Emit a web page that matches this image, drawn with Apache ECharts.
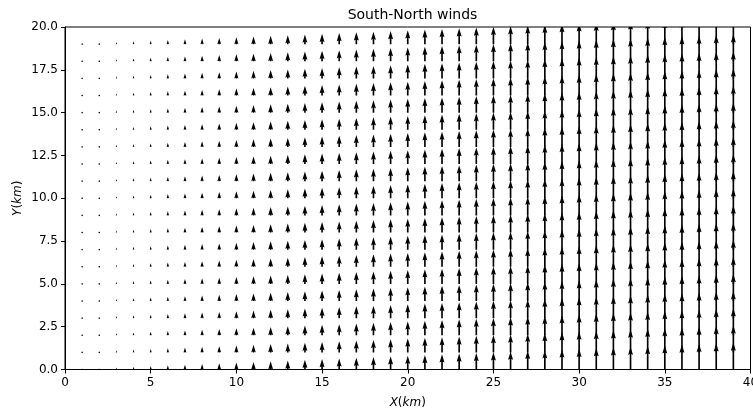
<!DOCTYPE html>
<html><head><meta charset="utf-8">
<script src="https://cdn.jsdelivr.net/npm/echarts@6/dist/echarts.min.js"></script>
<style>html,body{margin:0;padding:0;background:#fff}#c{width:753px;height:411px}</style>
</head><body><div id="c"></div>
<script>
// grid of arrow tails (km)
const xPositions = [0,1,2,3,4,5,6,7,8,9,10,11,12,13,14,15,16,17,18,19,20,21,22,23,24,25,26,27,28,29,30,31,32,33,34,35,36,37,38,39];
const yPositions = [0,1,2,3,4,5,6,7,8,9,10,11,12,13,14,15,16,17,18,19];
// south->north wind speed per x column (constant along y)
const northSpeed = [0,1,2,3,4,5,6,7,8,9,10,11,12,13,14,15,16,17,18,19,20,21,22,23,24,25,26,27,28,29,30,31,32,33,34,35,36,37,38,39];
const eastSpeed  = [0,0,0,0,0,0,0,0,0,0,0,0,0,0,0,0,0,0,0,0,0,0,0,0,0,0,0,0,0,0,0,0,0,0,0,0,0,0,0,0];
const xTickLabels = ['0','5','10','15','20','25','30','35','40'];
const yTickLabels = ['0.0','2.5','5.0','7.5','10.0','12.5','15.0','17.5','20.0'];

const ARROW_SCALE = 0.0404; // km of arrow per unit speed
const SHAFT_W = 1.65;       // px

const data = [];
xPositions.forEach((x, i) => {
  yPositions.forEach(y => data.push([x, y, eastSpeed[i], northSpeed[i]]));
});

function renderItem(params, api) {
  const x = api.value(0), y = api.value(1), u = api.value(2), v = api.value(3);
  const p0 = api.coord([x, y]);
  const p1 = api.coord([x + u * ARROW_SCALE, y + v * ARROW_SCALE]);
  const dx = p1[0] - p0[0], dy = p1[1] - p0[1];
  const L = Math.sqrt(dx * dx + dy * dy);
  const w = SHAFT_W;
  const Lw = L / w;
  let pts;
  if (Lw < 1) {
    pts = [];
    for (let k = 0; k < 6; k++) {
      const th = k * Math.PI / 3;
      pts.push([Math.cos(th) * 0.5, Math.sin(th) * 0.5]);
    }
  } else if (Lw < 5) {
    const s = Lw / 5;
    pts = [[0,0.5],[0.5,0.5],[0,1.5],[5,0],[0,-1.5],[0.5,-0.5],[0,-0.5]].map(p => [p[0]*s, p[1]*s]);
  } else {
    pts = [[0,0.5],[Lw-4.5,0.5],[Lw-5,1.5],[Lw,0],[Lw-5,-1.5],[Lw-4.5,-0.5],[0,-0.5]];
  }
  let ax = 0, ay = -1;
  if (L > 1e-9) { ax = dx / L; ay = dy / L; }
  const bx = -ay, by = ax;
  const points = pts.map(p => [p0[0] + (p[0] * ax + p[1] * bx) * w, p0[1] + (p[0] * ay + p[1] * by) * w]);
  return { type: 'polygon', shape: { points: points }, style: { fill: '#000' }, silent: true };
}

const FONT = 'DejaVu Sans';
const chart = echarts.init(document.getElementById('c'), null, { renderer: 'canvas' });
chart.setOption({
  animation: false,
  backgroundColor: '#fff',
  title: {
    text: 'South-North winds',
    left: 407.5, top: 3, textAlign: 'center',
    textStyle: { fontFamily: FONT, fontSize: 14, fontWeight: 'normal', color: '#000' }
  },
  grid: { left: 65, right: 2.5, top: 27, bottom: 41.5, outerBoundsMode: 'none', containLabel: false,
    show: true, borderColor: '#000', borderWidth: 1, backgroundColor: 'transparent' },
  xAxis: {
    type: 'value', min: 0, max: 40, interval: 5,
    axisLine: { show: true, onZero: false, lineStyle: { color: '#000', width: 1 } },
    axisTick: { show: true, length: 4, lineStyle: { color: '#000' } },
    splitLine: { show: false },
    axisLabel: { color: '#000', fontFamily: FONT, fontSize: 12, margin: 7,
      formatter: (val) => xTickLabels[Math.round(val / 5)] },
    name: '{i|X}({i|km})',
    nameLocation: 'middle', nameGap: 27, nameMoveOverlap: false,
    nameTextStyle: { fontFamily: FONT, fontSize: 12, color: '#000',
      rich: { i: { fontFamily: FONT, fontSize: 12, fontStyle: 'italic', color: '#000' } } }
  },
  yAxis: {
    type: 'value', min: 0, max: 20, interval: 2.5,
    axisLine: { show: true, onZero: false, lineStyle: { color: '#000', width: 1 } },
    axisTick: { show: true, length: 4, lineStyle: { color: '#000' } },
    splitLine: { show: false },
    axisLabel: { color: '#000', fontFamily: FONT, fontSize: 12, margin: 7,
      formatter: (val) => yTickLabels[Math.round(val / 2.5)] },
    name: '{i|Y}({i|km})',
    nameLocation: 'middle', nameGap: 41, nameMoveOverlap: false,
    nameTextStyle: { fontFamily: FONT, fontSize: 12, color: '#000',
      rich: { i: { fontFamily: FONT, fontSize: 12, fontStyle: 'italic', color: '#000' } } }
  },
  series: [{
    type: 'custom',
    coordinateSystem: 'cartesian2d',
    renderItem: renderItem,
    encode: { x: 0, y: 1 },
    clip: true,
    data: data
  }]
});
</script>
</body></html>
